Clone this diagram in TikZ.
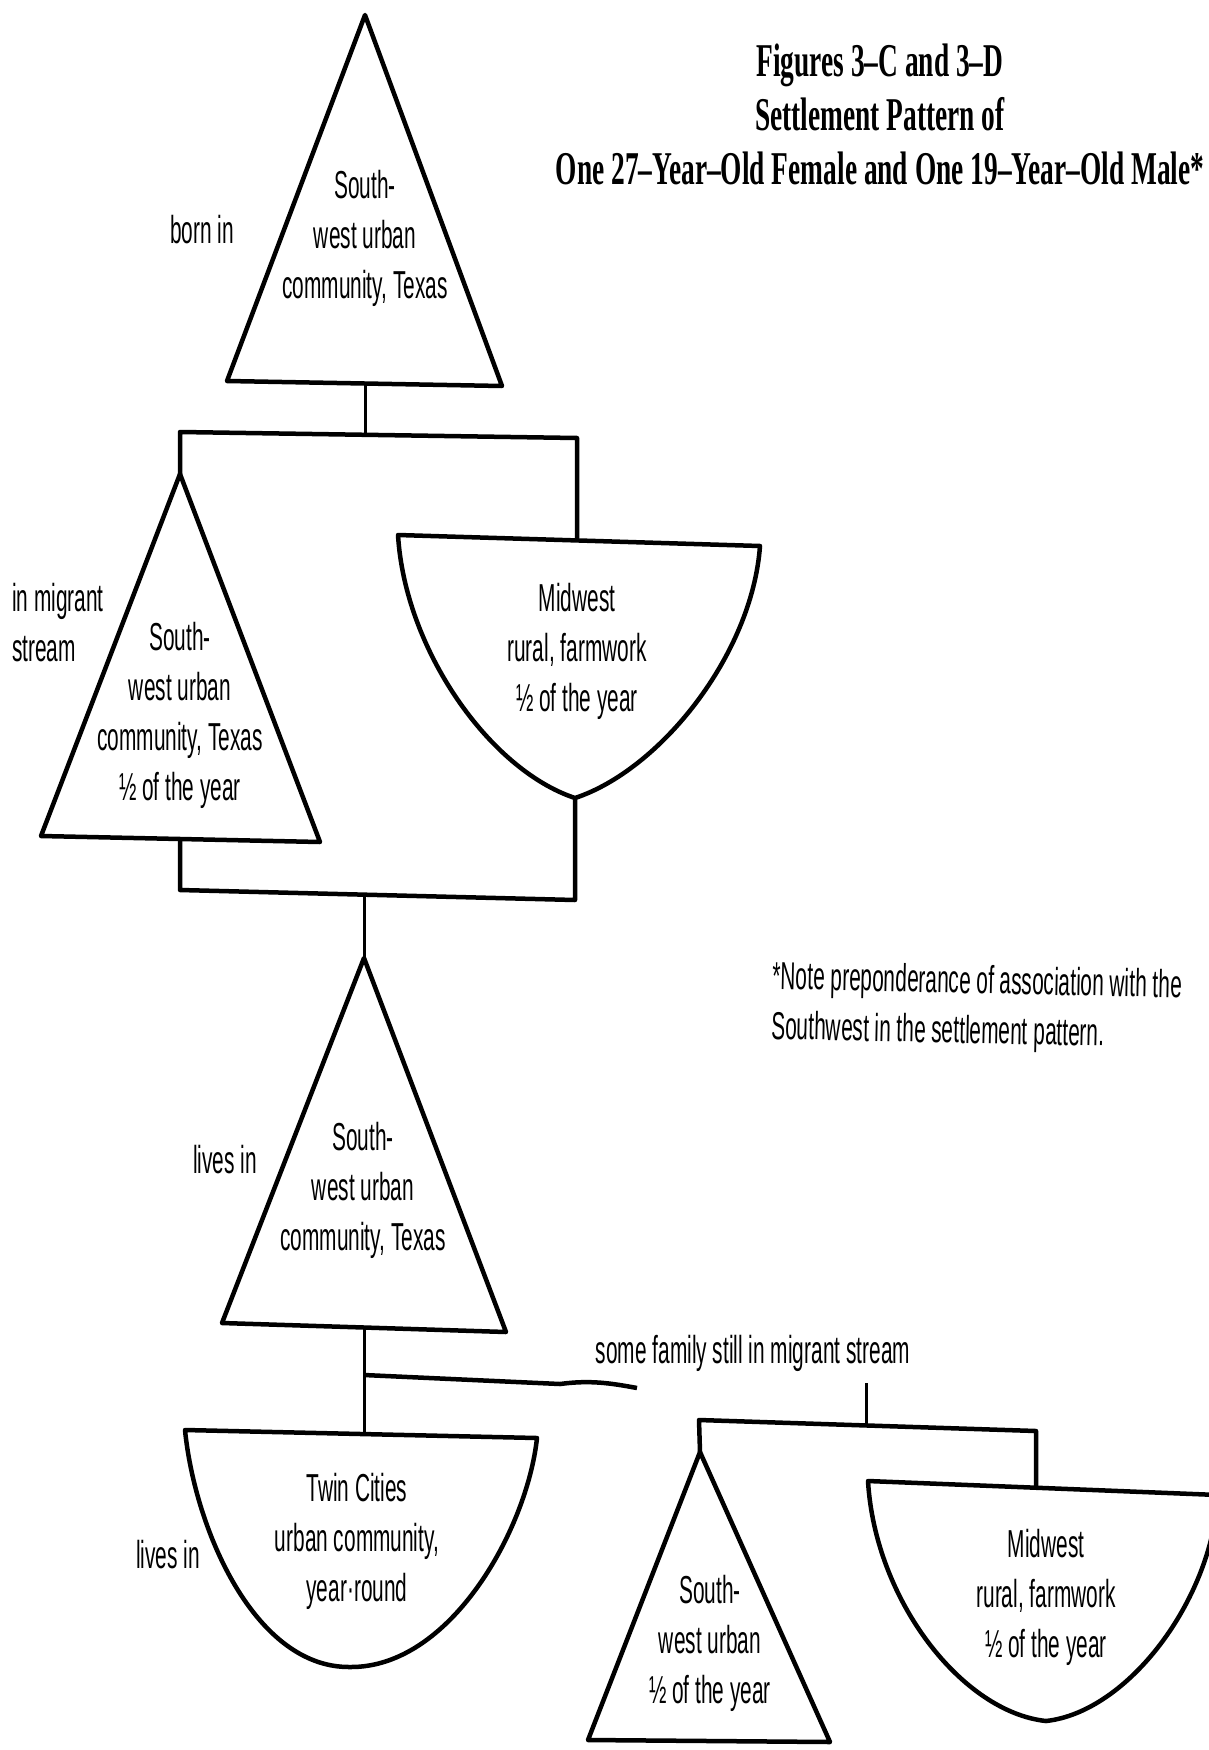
\documentclass[tikz,border=0pt]{standalone}
\usepackage{fontspec}
\setmainfont{Liberation Sans}[FakeStretch=0.535]
\newfontfamily\titlefont{Liberation Serif}[FakeStretch=0.583]

\begin{document}
\begin{tikzpicture}[x=1pt,y=-1pt,
        font=\fontsize{39}{50}\selectfont,
        ln/.style={line width=4.5pt,line join=round},
        st/.style={line width=3pt},
        lbl/.style={align=center,inner sep=0pt}]
        \useasboundingbox (0,0) rectangle (1209,1750);

        % title and note
        \node[lbl,font=\titlefont\bfseries\fontsize{47}{54}\selectfont] (ttl) at (880,114)
          {Figures 3–C and 3–D\\Settlement Pattern of\\One 27–Year–Old Female and One 19–Year–Old Male*};
        \node[lbl,align=left,anchor=west,rotate=-1.2] (note) at (772,1004)
          {*Note preponderance of association with the\\Southwest in the settlement pattern.};

        % born in
        \coordinate (t1a) at (365,15);
        \coordinate (t1l) at (227,381);
        \coordinate (t1r) at (502,386);
        \coordinate (t1b) at (365,384);
        \draw[ln] (t1a) -- (t1r) -- (t1l) -- cycle;
        \node[lbl] (t1) at (365,238) {South-\\west urban\\community, Texas};
        \node[lbl] (born) at (202,230) {born in};

        % in migrant stream
        \coordinate (f1l) at (180,432);
        \coordinate (f1m) at (365,434);
        \coordinate (f1r) at (577,438);
        \coordinate (t2a) at (180,474);
        \coordinate (t2l) at (41,836);
        \coordinate (t2r) at (320,842);
        \coordinate (t2b) at (180,839);
        \coordinate (b1l) at (398,535);
        \coordinate (b1r) at (760,546);
        \coordinate (b1m) at (577,540);
        \coordinate (b1b) at (575,798);
        \draw[st] (t1b) -- (f1m);
        \draw[ln] (t2a) -- (f1l) -- (f1r) -- (b1m);
        \draw[ln] (t2a) -- (t2r) -- (t2l) -- cycle;
        \draw[ln] (b1l) -- (b1r) .. controls (752,655) and (660,770) .. (b1b)
          .. controls (490,770) and (405,650) .. cycle;
        \node[lbl] (t2) at (180,715) {South-\\west urban\\community, Texas\\½ of the year};
        \node[lbl,align=left,anchor=west] (mig) at (12,623) {in migrant\\stream};
        \node[lbl] (b1) at (577,651) {Midwest\\rural, farmwork\\½ of the year};

        % lives in
        \coordinate (f2l) at (180,890);
        \coordinate (f2m) at (364,895);
        \coordinate (f2r) at (575,900);
        \coordinate (t3a) at (364,958);
        \coordinate (t3l) at (222,1323);
        \coordinate (t3r) at (506,1332);
        \coordinate (t3b) at (364,1328);
        \draw[ln] (t2b) -- (f2l) -- (f2r) -- (b1b);
        \draw[st] (f2m) -- (t3a);
        \draw[ln] (t3a) -- (t3r) -- (t3l) -- cycle;
        \node[lbl] (t3) at (363,1190) {South-\\west urban\\community, Texas};
        \node[lbl] (live1) at (225,1160) {lives in};

        % twin cities
        \coordinate (b2l) at (185,1430);
        \coordinate (b2r) at (537,1438);
        \coordinate (b2m) at (364,1434);
        \coordinate (b2b) at (350,1667);
        \coordinate (br) at (364,1375);
        \coordinate (bre) at (637,1388);
        \draw[st] (t3b) -- (b2m);
        \draw[ln] (br) -- (560,1384) .. controls (590,1380) and (610,1383) .. (bre);
        \draw[ln] (b2l) -- (b2r) .. controls (527,1530) and (450,1668) .. (b2b)
          .. controls (255,1668) and (195,1530) .. cycle;
        \node[lbl] (b2) at (357,1541) {Twin Cities\\urban community,\\year·round};
        \node[lbl] (live2) at (168,1555) {lives in};
        \node[lbl] (fam) at (753,1353) {some family still in migrant stream};

        % family still in stream
        \coordinate (f3t) at (866,1383);
        \coordinate (f3l) at (699,1420);
        \coordinate (f3m) at (866,1425);
        \coordinate (f3r) at (1036,1431);
        \coordinate (t4a) at (700,1452);
        \coordinate (t4l) at (588,1740);
        \coordinate (t4r) at (830,1742);
        \coordinate (b3l) at (868,1481);
        \coordinate (b3r) at (1218,1495);
        \coordinate (b3m) at (1036,1488);
        \coordinate (b3b) at (1046,1721);
        \draw[st] (f3t) -- (f3m);
        \draw[ln] (t4a) -- (f3l) -- (f3r) -- (b3m);
        \draw[ln] (t4a) -- (t4r) -- (t4l) -- cycle;
        \draw[ln] (b3l) -- (b3r) .. controls (1212,1600) and (1128,1712) .. (b3b)
          .. controls (962,1712) and (875,1600) .. cycle;
        \node[lbl] (t4) at (710,1643) {South-\\west urban\\½ of the year};
        \node[lbl] (b3) at (1046,1597) {Midwest\\rural, farmwork\\½ of the year};
      \end{tikzpicture}
\end{document}
